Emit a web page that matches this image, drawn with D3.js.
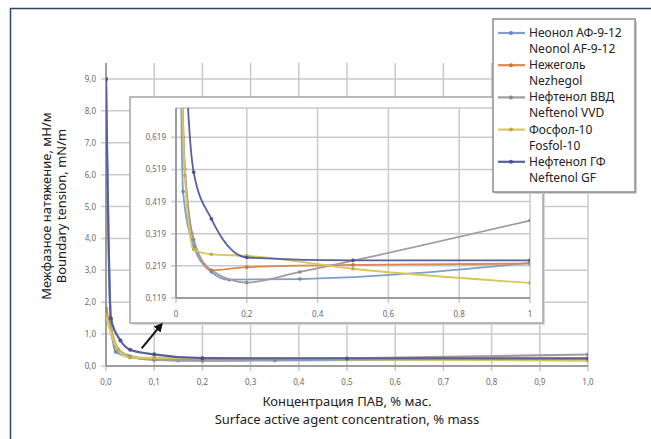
<!DOCTYPE html>
<html>
<head>
<meta charset="utf-8">
<script src="https://cdn.jsdelivr.net/npm/d3@7"></script>
<style>
    body { margin: 0; background: #fff; }
    #chart { width: 651px; height: 439px; }
    text { font-family: "Noto Sans", "DejaVu Sans", sans-serif; }
</style>
</head>
<body>
<div id="chart"></div>
<script>
// concentration, % mass (x) and boundary tension, mN/m (y)
const neonolX = [0, 0.01, 0.02, 0.05, 0.1, 0.15, 0.35, 1];
const neonolY = [9.0, 1.45, 0.45, 0.28, 0.2, 0.176, 0.178, 0.228];

const nezhegolX = [0, 0.025, 0.045, 0.1, 0.2, 0.5, 1];
const nezhegolY = [1.8, 0.52, 0.32, 0.205, 0.215, 0.222, 0.226];

const neftenolVvdX = [0, 0.02, 0.05, 0.1, 0.2, 0.35, 1];
const neftenolVvdY = [1.7, 0.62, 0.3, 0.205, 0.167, 0.2, 0.36];

const fosfolX = [0, 0.025, 0.05, 0.1, 0.2, 0.5, 1];
const fosfolY = [1.6, 0.5, 0.27, 0.255, 0.25, 0.21, 0.166];

const neftenolGfX = [0, 0.01, 0.03, 0.05, 0.1, 0.2, 0.5, 1];
const neftenolGfY = [9.0, 1.5, 0.8, 0.51, 0.365, 0.245, 0.236, 0.236];

const namesRu = ["Неонол АФ-9-12", "Нежеголь", "Нефтенол ВВД", "Фосфол-10", "Нефтенол ГФ"];
const namesEn = ["Neonol AF-9-12", "Nezhegol", "Neftenol VVD", "Fosfol-10", "Neftenol GF"];
const colors = ["#7d9fc9", "#d88a52", "#a59a9c", "#d6c85a", "#56609f"];

const mainTicksX = [0, 0.1, 0.2, 0.3, 0.4, 0.5, 0.6, 0.7, 0.8, 0.9, 1.0];
const mainTicksY = [0, 1, 2, 3, 4, 5, 6, 7, 8, 9];
const insetTicksX = [0, 0.2, 0.4, 0.6, 0.8, 1];
const insetTicksY = [0.119, 0.219, 0.319, 0.419, 0.519, 0.619];

// arrow from the main curves to the inset (data coords of main chart)
const arrowFrom = [0.074, 0.55];
const arrowTo = [0.112, 1.25];

const series = [
    [neonolX, neonolY], [nezhegolX, nezhegolY], [neftenolVvdX, neftenolVvdY],
    [fosfolX, fosfolY], [neftenolGfX, neftenolGfY]
].map(([xs, ys], i) => ({
    ru: namesRu[i], en: namesEn[i], color: colors[i],
    values: xs.map((x, j) => ({ x: x, y: ys[j] }))
}));

const comma = f => v => d3.format(f)(v).replace(".", ",");

const svg = d3.select("#chart").append("svg")
    .attr("width", 651).attr("height", 439);

svg.append("rect").attr("width", 651).attr("height", 439).attr("fill", "#fff");

// outer frame
svg.append("rect")
    .attr("x", 10.5).attr("y", 8.5).attr("width", 700).attr("height", 500)
    .attr("fill", "none").attr("stroke", "#2d4670").attr("stroke-width", 1.5);

const defs = svg.append("defs");
defs.append("clipPath").attr("id", "clipMain").append("rect")
    .attr("x", 106).attr("y", 63).attr("width", 482).attr("height", 303);
defs.append("clipPath").attr("id", "clipInset").append("rect")
    .attr("x", 176).attr("y", 108).attr("width", 354).attr("height", 190);
defs.append("marker").attr("id", "arrowHead")
    .attr("viewBox", "0 0 10 10").attr("refX", 5).attr("refY", 5)
    .attr("markerWidth", 4.5).attr("markerHeight", 4.5).attr("orient", "auto")
    .append("path").attr("d", "M0,0 L10,5 L0,10 z").attr("fill", "#111");

// Main chart
const x = d3.scaleLinear().domain([0, 1]).range([106, 588]);
const y = d3.scaleLinear().domain([0, 9.5]).range([366, 63]);

function drawPanel(g, xs, ys, ticksX, ticksY, fmtX, fmtY, clipId, r, w) {
    const [x0, x1] = xs.range();
    const [y0, y1] = ys.range();

    // gridlines
    g.append("g").selectAll("line").data(ticksX).join("line")
        .attr("x1", d => xs(d)).attr("x2", d => xs(d))
        .attr("y1", y1).attr("y2", y0 + 5)
        .attr("stroke", "#c9c9c9").attr("stroke-width", 1.5);
    g.append("g").selectAll("line").data(ticksY).join("line")
        .attr("x1", x0 - 5).attr("x2", x1)
        .attr("y1", d => ys(d)).attr("y2", d => ys(d))
        .attr("stroke", "#c9c9c9").attr("stroke-width", 1.5);

    // axis lines
    g.append("line").attr("x1", x0).attr("x2", x0).attr("y1", y1).attr("y2", y0)
        .attr("stroke", "#8a8a8a").attr("stroke-width", 1.5);
    g.append("line").attr("x1", x0).attr("x2", x1).attr("y1", y0).attr("y2", y0)
        .attr("stroke", "#8a8a8a").attr("stroke-width", 1.5);

    // tick labels
    g.append("g").selectAll("text").data(ticksX).join("text")
        .attr("x", d => xs(d)).attr("y", y0 + 19)
        .attr("text-anchor", "middle").style("font-size", "8px").attr("fill", "#6a6a6a")
        .text(fmtX);
    g.append("g").selectAll("text").data(ticksY).join("text")
        .attr("x", x0 - 10).attr("y", d => ys(d) + 3)
        .attr("text-anchor", "end").style("font-size", "8px").attr("fill", "#6a6a6a")
        .text(fmtY);

    const line = d3.line().x(d => xs(d.x)).y(d => ys(d.y)).curve(d3.curveMonotoneX);

    const groups = g.append("g").attr("clip-path", `url(#${clipId})`)
        .selectAll("g").data(series).join("g");

    groups.append("path")
        .attr("d", d => line(d.values))
        .attr("fill", "none").attr("stroke", d => d.color).attr("stroke-width", w);

    groups.selectAll("circle").data(d => d.values.map(v => ({ ...v, color: d.color }))).join("circle")
        .attr("cx", d => xs(d.x)).attr("cy", d => ys(d.y)).attr("r", r)
        .attr("fill", d => d3.color(d.color).darker(0.4));
}

drawPanel(svg.append("g"), x, y, mainTicksX, mainTicksY,
    comma(".1f"), comma(".1f"), "clipMain", 2, 2.2);

// Inset
svg.append("rect")
    .attr("x", 132).attr("y", 99).attr("width", 413).attr("height", 226)
    .attr("fill", "#d8d8d8");
svg.append("rect")
    .attr("x", 130).attr("y", 97).attr("width", 413).attr("height", 226)
    .attr("fill", "#fff").attr("stroke", "#a5a5a5").attr("stroke-width", 1.5);

const xi = d3.scaleLinear().domain([0, 1]).range([176, 530]);
const yi = d3.scaleLinear().domain([0.119, 0.71]).range([298, 108]);

const inset = svg.append("g");
inset.append("line").attr("x1", 176).attr("x2", 530).attr("y1", 108).attr("y2", 108)
    .attr("stroke", "#c9c9c9").attr("stroke-width", 1.5);
drawPanel(inset, xi, yi, insetTicksX, insetTicksY,
    d => (d === 0 || d === 1) ? d : comma(".1f")(d), comma(".3f"), "clipInset", 1.8, 1.8);

// arrow
svg.append("line")
    .attr("x1", x(arrowFrom[0])).attr("y1", y(arrowFrom[1]))
    .attr("x2", x(arrowTo[0])).attr("y2", y(arrowTo[1]))
    .attr("stroke", "#111").attr("stroke-width", 2)
    .attr("marker-end", "url(#arrowHead)");

// Legend
svg.append("rect")
    .attr("x", 495).attr("y", 21).attr("width", 142).attr("height", 173).attr("fill", "#cfcfcf");
svg.append("rect")
    .attr("x", 493).attr("y", 19).attr("width", 142).attr("height", 173)
    .attr("fill", "#fff").attr("stroke", "#8c8c8c").attr("stroke-width", 1.5);

const legend = svg.append("g").selectAll("g").data(series).join("g")
    .attr("transform", (d, i) => `translate(0,${33 + i * 32.2})`);
legend.append("line").attr("x1", 498).attr("x2", 525).attr("y1", 0).attr("y2", 0)
    .attr("stroke", d => d.color).attr("stroke-width", 2.2);
legend.append("circle").attr("cx", 511).attr("cy", 0).attr("r", 2)
    .attr("fill", d => d3.color(d.color).darker(0.4));
legend.append("text").attr("x", 529).attr("y", 4)
    .style("font-size", "12px").attr("fill", "#222").text(d => d.ru);
legend.append("text").attr("x", 529).attr("y", 20)
    .style("font-size", "12px").attr("fill", "#222").text(d => d.en);

// Axis titles
svg.append("text")
    .attr("transform", "translate(51,206) rotate(-90)")
    .attr("text-anchor", "middle").style("font-size", "13px").attr("fill", "#222")
    .text("Межфазное натяжение, мН/м");
svg.append("text")
    .attr("transform", "translate(66,206) rotate(-90)")
    .attr("text-anchor", "middle").style("font-size", "13px").attr("fill", "#222")
    .text("Boundary tension, mN/m");

svg.append("text")
    .attr("x", 347).attr("y", 406)
    .attr("text-anchor", "middle").style("font-size", "13px").attr("fill", "#222")
    .text("Концентрация ПАВ, % мас.");
svg.append("text")
    .attr("x", 347).attr("y", 424)
    .attr("text-anchor", "middle").style("font-size", "13px").attr("fill", "#222")
    .text("Surface active agent concentration, % mass");
</script>
</body>
</html>
